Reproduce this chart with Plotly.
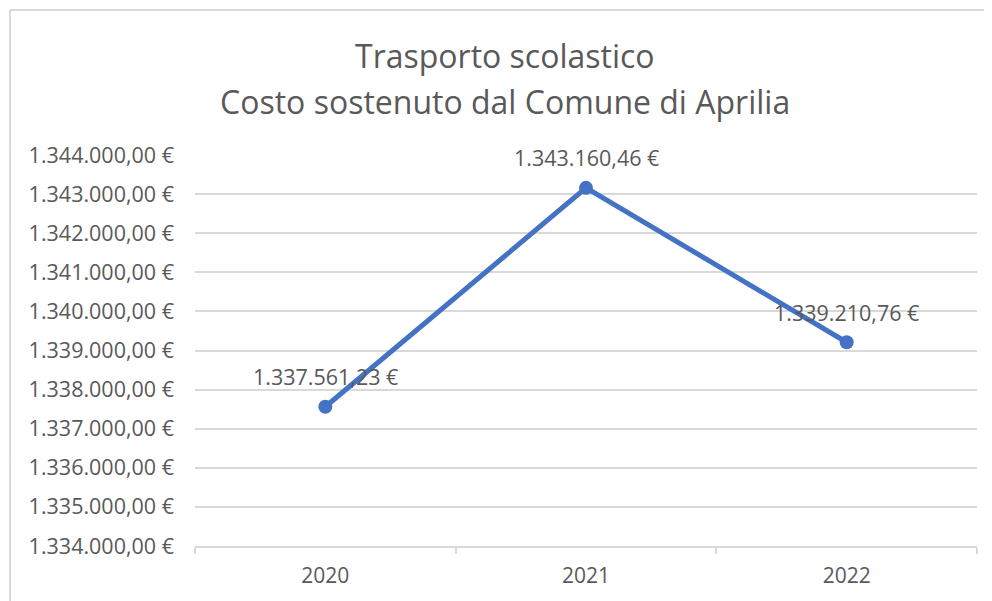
import plotly.graph_objects as go

years = ["2020", "2021", "2022"]
costs = [1337561.23, 1343160.46, 1339210.76]
title_lines = ["Trasporto scolastico", "Costo sostenuto dal Comune di Aprilia"]
y_min, y_max, y_step = 1334000, 1344000, 1000

TEXT = "#595959"
GRID = "#d9d9d9"
BLUE = "#4472C4"
FONT = "Open Sans"

# page offset of the browser (body margin)
OFF = 8
W, H = 992, 601
# desired screen positions of the plot area
SL, ST, SR, SB = 195, 155, 977, 546
L, T = SL - OFF, ST - OFF
R, B = W - (SR - OFF), H - (SB - OFF)
pw, ph = W - L - R, H - T - B


def px_x(sx):
    return (sx - OFF - L) / pw


def px_y(sy):
    return (H - B - (sy - OFF)) / ph


fig = go.Figure()
fig.add_trace(go.Scatter(
    x=years, y=costs, mode="lines+markers",
    line=dict(color=BLUE, width=5),
    marker=dict(color=BLUE, size=14),
    hoverinfo="skip", showlegend=False,
))


def fmt(v):
    s = f"{v:,.2f}"
    s = s.replace(",", "X").replace(".", ",").replace("X", ".")
    return s + " €"


annotations = []
for i, v in enumerate(costs):
    annotations.append(dict(
        x=i, y=v, xref="x", yref="y", text=fmt(v), showarrow=False,
        yshift=30, font=dict(family=FONT, size=21.5, color=TEXT),
    ))
for t, sy in zip(title_lines, [56, 101]):
    annotations.append(dict(
        x=px_x(505), y=px_y(sy), xref="paper", yref="paper",
        xanchor="center", yanchor="middle", text=t, showarrow=False,
        font=dict(family=FONT, size=32, color=TEXT),
    ))

fig.update_layout(
    width=W, height=H,
    margin=dict(l=L, r=R, t=T, b=B),
    paper_bgcolor="white", plot_bgcolor="white",
    separators=",.",
    annotations=annotations,
    font=dict(family=FONT, color=TEXT, size=21.5),
    shapes=[
        dict(type="line", xref="paper", yref="paper",
             x0=px_x(10), x1=px_x(1010), y0=px_y(10), y1=px_y(10),
             line=dict(color=GRID, width=2)),
        dict(type="line", xref="paper", yref="paper",
             x0=px_x(10), x1=px_x(10), y0=px_y(10), y1=px_y(620),
             line=dict(color=GRID, width=2)),
    ],
)
fig.update_xaxes(
    type="category", showgrid=False, showline=True, linecolor=GRID, linewidth=2,
    ticks="outside", tickson="boundaries", ticklen=6, tickcolor=GRID, tickwidth=2,
    ticklabelstandoff=10,
    tickfont=dict(family=FONT, size=21, color=TEXT), range=[-0.5, 2.5],
)
fig.update_yaxes(
    range=[y_min, y_max], dtick=y_step, tick0=y_min,
    tickformat=",.2f", ticksuffix=" €",
    showgrid=True, gridcolor=GRID, gridwidth=2, zeroline=False,
    ticks="", ticklabelstandoff=20,
    tickfont=dict(family=FONT, size=21.5, color=TEXT),
)
fig.write_html("out.html")
